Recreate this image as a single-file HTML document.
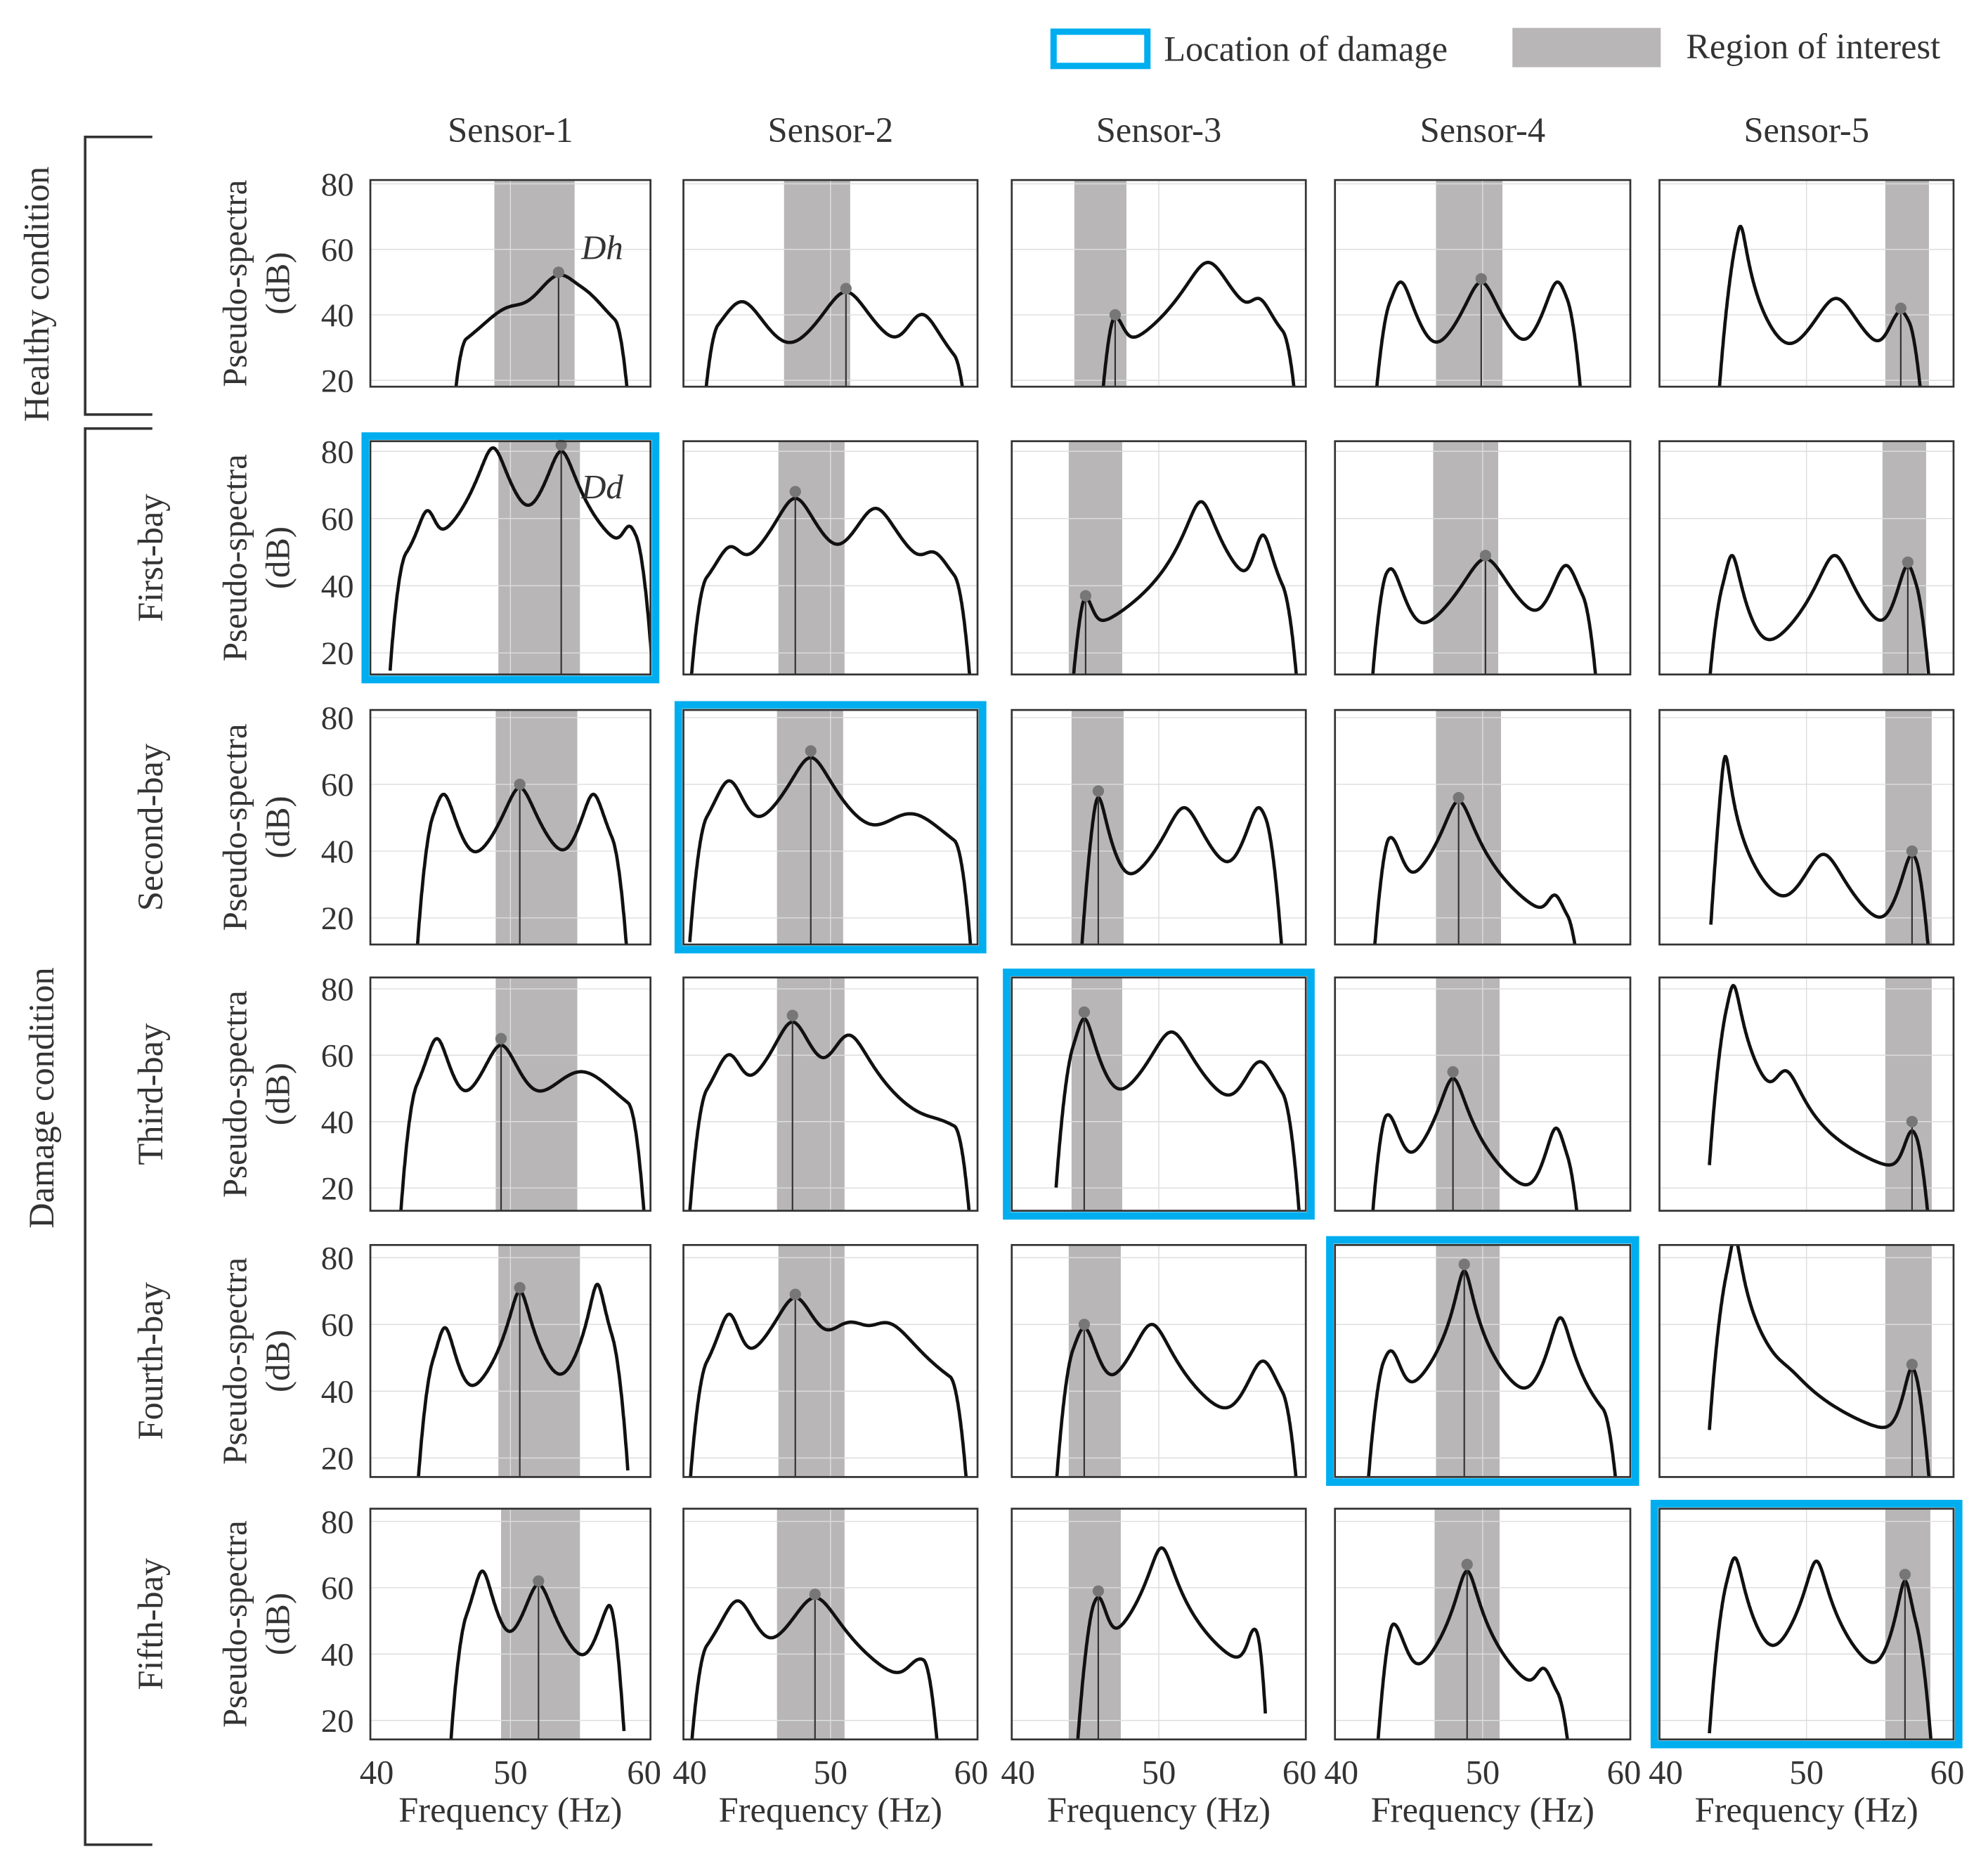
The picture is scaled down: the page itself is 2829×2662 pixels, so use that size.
<!DOCTYPE html>
<html><head><meta charset="utf-8"><style>
html,body{margin:0;padding:0;background:#fff}
svg text{font-family:"Liberation Serif",serif;fill:#333}
</style></head><body>
<svg id="chart" width="2829" height="2657" viewBox="0 0 1568 1473" xmlns="http://www.w3.org/2000/svg">
<g>
<rect x="831" y="25" width="74" height="27" fill="none" stroke="#00aeef" stroke-width="5"/>
<text x="918" y="48" font-size="28">Location of damage</text>
<rect x="1193" y="22" width="117" height="31" fill="#b8b6b7"/>
<text x="1330" y="46" font-size="28">Region of interest</text>
</g>
<g stroke="#333" stroke-width="2" fill="none">
<path d="M120 108 H67 V327 H120"/>
<path d="M120 338 H67 V1455 H120"/>
</g>
<text font-size="28" transform="translate(38,232) rotate(-90)" text-anchor="middle">Healthy condition</text>
<text font-size="28" transform="translate(42,866) rotate(-90)" text-anchor="middle">Damage condition</text>
<g id="plots"></g>
</svg>
<script>
// ---- data (rows: healthy, first..fifth bay; cols: sensor 1..5) ----
const sensorNames = ["Sensor-1","Sensor-2","Sensor-3","Sensor-4","Sensor-5"];
const rowNames = ["","First-bay","Second-bay","Third-bay","Fourth-bay","Fifth-bay"];
const xTicks = [40,50,60];
const yTicks = [20,40,60,80];
const damageCol = [-1,0,1,2,3,4];
const peakFreq = [
 [[50,53.7,55.5],[43.7,51.1,56.5],[46.9,53.5,57.1],[44.2,49.9,55.3],[45.3,52.1,56.7]],
 [[43.8,48.7,53.8,58.9],[42.9,47.5,53.2,57.3],[44.8,53,57.4],[43.5,50.2,55.9],[44.7,52,57.2]],
 [[45,50.7,56.2],[42.8,48.6,55.7],[45.7,51.8,57.1],[43.5,48.3,55.1],[44.2,51.2,57.5]],
 [[44.5,49.3,55.3],[42.8,47.3,51.3,57.7],[44.7,50.9,57.2],[43.3,47.9,55.2],[44.8,48.5,57.5]],
 [[45.1,50.7,56.5],[42.8,47.5,51.4,54],[44.7,49.5,57.4],[43.5,48.7,55.5],[44.9,48.5,57.5]],
 [[47.9,52.1,57.5],[43.4,48.9,56.4],[45.7,50.2,57.2],[43.7,48.9,54.3],[44.9,50.7,57]]
];
const peakDb = [
 [[41,52,44],[44,47,40],[39,56,44],[50,50,50],[67,45,41]],
 [[62,81,80,57],[51,66,63,49],[36,65,55],[45,48,46],[49,49,46]],
 [[57,59,57],[61,68,51],[56,53,53],[44,55,26],[69,39,39]],
 [[65,63,55],[60,70,66,37],[71,67,58],[42,53,38],[81,55,37]],
 [[59,70,72],[63,68,60,60],[59,60,49],[52,76,62],[86,42,47]],
 [[65,61,55],[56,57,38],[57,72,55],[49,65,35],[69,68,62]]
];
const peakWidth = [
 [[1.8,1.4,1.4],[1.2,1.2,1],[0.6,1.1,0.8],[0.6,0.8,0.6],[0.3,1.1,0.7]],
 [[0.6,0.7,0.7,0.6],[0.9,1,1.1,1],[0.5,0.7,0.5],[0.6,1.1,0.7],[0.4,0.8,0.5]],
 [[0.6,0.8,0.6],[0.8,1,2],[0.4,0.9,0.6],[0.6,0.7,0.6],[0.25,1,0.5]],
 [[0.6,0.9,2],[0.8,0.9,1,2],[0.5,1,0.9],[0.6,0.6,0.5],[0.35,0.8,0.5]],
 [[0.5,0.5,0.4],[0.6,1,1.5,1.5],[0.6,0.9,0.8],[0.6,0.4,0.5],[0.3,1.2,0.4]],
 [[0.5,0.7,0.6],[0.9,1.2,1],[0.5,0.6,0.4],[0.6,0.5,0.6],[0.4,0.5,0.35]]
];
const curveStart = [[45.5,40.8,45.7,42.2,43.7],[41,40,43.6,42,42.8],[43,40,44.5,42.2,43.2],[41.8,40,42.7,42,43.1],[43,40,42.7,41.8,43.1],[45.5,40,44.2,42.5,43.1]];
const curveEnd = [[59,60,60,57.2,58.5],[60.6,60,60,58.3,59],[58.8,60,58.8,57.2,59],[60,60,60,57.2,59],[58.8,59.7,60,59.7,59],[58.5,57.8,57.6,56.5,59]];
const roiStart = [[48.8,46.7,44,46.7,55.6],[49.1,46.3,43.6,46.5,55.4],[48.9,46.2,43.8,46.7,55.6],[48.9,46.2,43.8,46.7,55.6],[49.1,46.3,43.6,46.7,55.6],[49.3,46.2,43.6,46.6,55.6]];
const roiEnd = [[54.8,51.4,47.7,51.4,58.7],[55.2,51,47.4,51.1,58.5],[55,50.9,47.5,51.3,58.9],[55,51,47.4,51.2,58.9],[55.2,51,47.3,51.2,58.9],[55.2,51,47.3,51.2,58.8]];
const markerFreq = [[53.6,51.1,46.9,49.9,56.7],[53.8,47.5,44.8,50.2,57.2],[50.7,48.6,45.7,48.3,57.5],[49.3,47.3,44.7,47.9,57.5],[50.7,47.5,44.7,48.7,57.5],[52.1,48.9,45.7,48.9,57]];
const markerVal = [[53,48,40,51,42],[82,68,37,49,47],[60,70,58,56,40],[65,72,73,55,40],[71,69,60,78,48],[62,58,59,67,64]];

// ---- layout ----
const colL=[292,539,798,1053,1309], colR=[513,771,1030,1286,1541];
const rowT=[142,348,560,771,982,1190], rowB=[305,532,745,955,1165,1372];
const rowY80=[145,356,566,780,992,1200], rowY20=[300,515,724,937,1150,1357];
const NS="http://www.w3.org/2000/svg";
const root=document.getElementById('plots');
function mk(tag,attrs,parent){const e=document.createElementNS(NS,tag);for(const k in attrs)e.setAttribute(k,attrs[k]);(parent||root).appendChild(e);return e;}
function curveDb(r,c,f){
  let p=0;const F=peakFreq[r][c];
  for(let i=0;i<F.length;i++){const d=(f-F[i])/(peakWidth[r][c][i]*1.25);const l=1/(1+d*d);p+=Math.pow(10,peakDb[r][c][i]/10)*l*l;}
  let v=10*Math.log10(p);
  const s=curveStart[r][c],e=curveEnd[r][c];
  if(f<s+1.2){const t=(s+1.2-f)/1.2;v-=30*t*t;}
  if(f>e-1.2){const t=(f-(e-1.2))/1.2;v-=30*t*t;}
  return v;
}
sensorNames.forEach((n,c)=>{
  const t=mk('text',{x:(colL[c]+colR[c])/2,y:112,'font-size':28,'text-anchor':'middle'});
  
  
  t.textContent=n;
});
for(let r=0;r<6;r++){
  const yT=rowT[r],yB=rowB[r];
  const ys=v=>rowY80[r]+(80-v)/60*(rowY20[r]-rowY80[r]);
  const cy=(yT+yB)/2;
  const yl=mk('text',{'font-size':27,'text-anchor':'middle',transform:`translate(194,${cy}) rotate(-90)`});
  
  
  yl.textContent='Pseudo-spectra';
  const yl2=mk('text',{'font-size':27,'text-anchor':'middle',transform:`translate(228,${cy}) rotate(-90)`});
  
  
  yl2.textContent='(dB)';
  if(rowNames[r]){
    const rl=mk('text',{'font-size':28,'text-anchor':'middle',transform:`translate(128,${cy}) rotate(-90)`});
    
    
    rl.textContent=rowNames[r];
  }
  yTicks.forEach(v=>{
    const t=mk('text',{x:279,y:ys(v)+9,'font-size':26,'text-anchor':'end'});
    
    
    t.textContent=v;
  });
  for(let c=0;c<5;c++){
    const L=colL[c],R=colR[c];
    const xs=f=>L+5+(f-40)/20*(R-L-10);
    const g=mk('g',{});
    
    
    const cid=`clip${r}${c}`;
    const cp=mk('clipPath',{id:cid},g);mk('rect',{x:L,y:yT,width:R-L,height:yB-yT},cp);
    const roi=mk('rect',{x:xs(roiStart[r][c]),y:yT,width:xs(roiEnd[r][c])-xs(roiStart[r][c]),height:yB-yT,fill:'#b8b6b7'},g);
    
    
    yTicks.forEach(v=>{mk('line',{x1:L,x2:R,y1:ys(v),y2:ys(v),stroke:'#ddd','stroke-width':0.8},g);});
    mk('line',{x1:xs(50),x2:xs(50),y1:yT,y2:yB,stroke:'#ddd','stroke-width':0.8},g);
    let d='';
    const s=curveStart[r][c],e=curveEnd[r][c];
    for(let f=s;f<=e+1e-9;f+=0.03){d+=(d?'L':'M')+xs(f).toFixed(1)+' '+ys(curveDb(r,c,f)).toFixed(1);}
    const path=mk('path',{d:d,fill:'none',stroke:'#111','stroke-width':2.6,'clip-path':`url(#${cid})`},g);
    
    
    const mx=xs(markerFreq[r][c]),my=ys(markerVal[r][c]);
    mk('line',{x1:mx,x2:mx,y1:my,y2:yB,stroke:'#333','stroke-width':1.2},g);
    const m=mk('circle',{cx:mx,cy:Math.max(my,yT+3),r:4.5,fill:'#777'},g);
    
    
    mk('rect',{x:L,y:yT,width:R-L,height:yB-yT,fill:'none',stroke:'#333','stroke-width':1.5},g);
    if(damageCol[r]===c){
      const b=mk('rect',{x:L-4,y:yT-4,width:R-L+8,height:yB-yT+8,fill:'none',stroke:'#00aeef','stroke-width':6},g);
      
      
    }
    if(r===0&&c===0){const t=mk('text',{x:xs(55.3),y:ys(57),'font-size':27,'font-style':'italic',fill:'#555'},g);t.textContent='Dh';}
    if(r===1&&c===0){const t=mk('text',{x:xs(55.3),y:ys(66),'font-size':27,'font-style':'italic',fill:'#555'},g);t.textContent='Dd';}
    if(r===5){
      xTicks.forEach(v=>{
        const t=mk('text',{x:xs(v),y:1407,'font-size':27,'text-anchor':'middle'});
        
        
        t.textContent=v;
      });
      const xt=mk('text',{x:(L+R)/2,y:1437,'font-size':28,'text-anchor':'middle'});
      
      
      xt.textContent='Frequency (Hz)';
    }
  }
}
</script>
</body></html>
